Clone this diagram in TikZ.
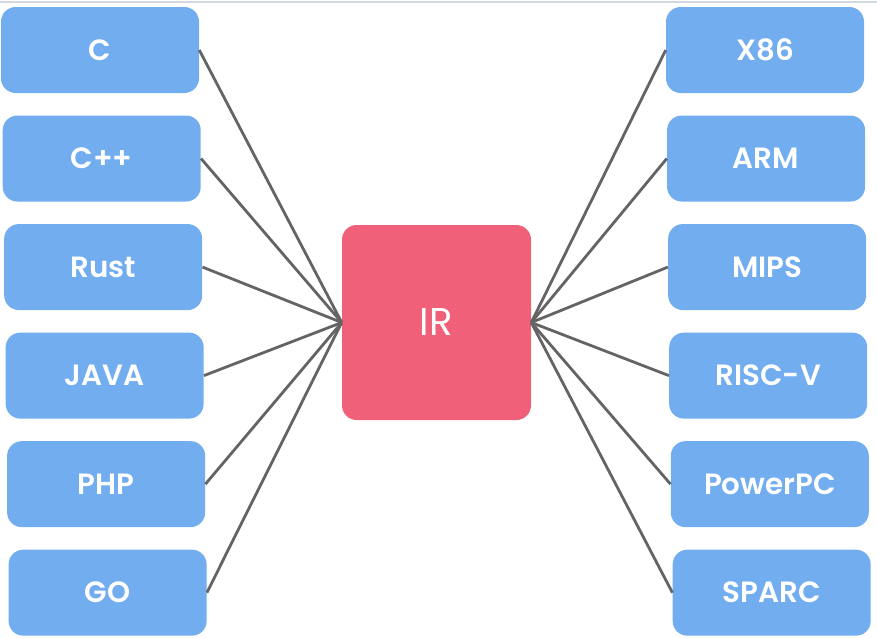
\documentclass[tikz,border=0pt]{standalone}
\usepackage{fontspec}
\setmainfont{Poppins}[BoldFont={Poppins SemiBold}]
\usepackage{xcolor}
\usepackage{tikz}
\usetikzlibrary{positioning}

\definecolor{langblue}{HTML}{72ADEF}
\definecolor{irred}{HTML}{F06078}
\definecolor{linkgray}{HTML}{646464}
\definecolor{edgegray}{HTML}{D3D8DE}

\begin{document}
\begin{tikzpicture}[x=0.75pt, y=-0.75pt,
            node distance=16.5pt,
            lang/.style={rectangle, rounded corners=11pt, minimum width=148.5pt, minimum height=64.5pt, text centered, fill=langblue, text=white, font=\fontsize{22}{26}\selectfont\bfseries},
            arch/.style={lang},
            core/.style={rectangle, rounded corners=11pt, minimum width=141.75pt, minimum height=146.25pt, text centered, fill=irred, text=white, font=\fontsize{29}{34}\selectfont},
            link/.style={draw=linkgray, line width=2.1pt}]
            \useasboundingbox (0,0) rectangle (877,637);
            \draw [edgegray, line width=0.8pt] (0,2) -- (877,2);

            % Nodes
            \node (ir) [core] at (436.5,322.5) {IR};
            \node (c) [lang] at (100,50) {C};
            \node (cpp) [lang, below=of c, xshift=1.3pt] {C++};
            \node (rust) [lang, below=of cpp, xshift=1.1pt] {Rust};
            \node (java) [lang, below=of rust, xshift=1.1pt] {JAVA};
            \node (php) [lang, below=of java, xshift=1.1pt] {PHP};
            \node (go) [lang, below=of php, xshift=1.1pt] {GO};
            \node (x86) [arch] at (765,50) {X86};
            \node (arm) [arch, below=of x86, xshift=0.8pt] {ARM};
            \node (mips) [arch, below=of arm, xshift=0.8pt] {MIPS};
            \node (riscv) [arch, below=of mips, xshift=0.8pt] {RISC-V};
            \node (ppc) [arch, below=of riscv, xshift=1.2pt] {PowerPC};
            \node (sparc) [arch, below=of ppc, xshift=1.4pt] {SPARC};

            % Links
            \draw [link] (c.east) -- (ir.west);
            \draw [link] (cpp.east) -- (ir.west);
            \draw [link] (rust.east) -- (ir.west);
            \draw [link] (java.east) -- (ir.west);
            \draw [link] (php.east) -- (ir.west);
            \draw [link] (go.east) -- (ir.west);
            \draw [link] (ir.east) -- (x86.west);
            \draw [link] (ir.east) -- (arm.west);
            \draw [link] (ir.east) -- (mips.west);
            \draw [link] (ir.east) -- (riscv.west);
            \draw [link] (ir.east) -- (ppc.west);
            \draw [link] (ir.east) -- (sparc.west);
        \end{tikzpicture}
\end{document}
